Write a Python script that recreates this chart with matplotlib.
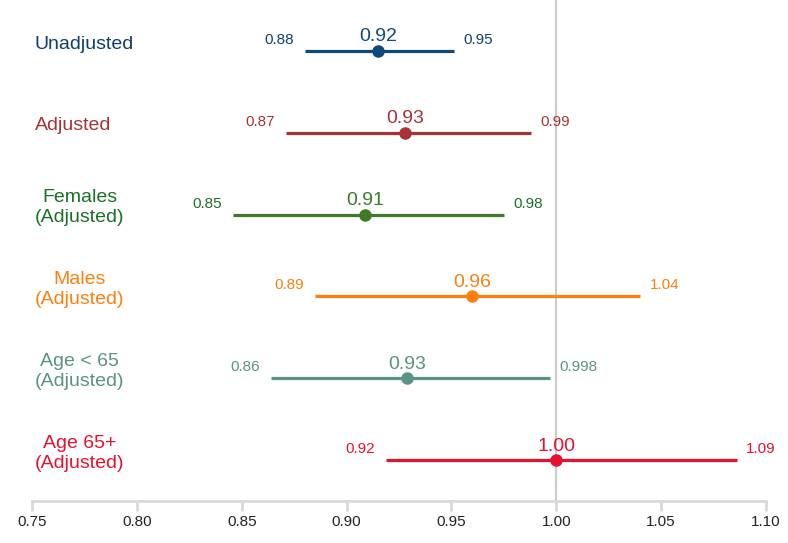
import matplotlib.pyplot as plt
import matplotlib.transforms as mtransforms

plt.rcParams['font.family'] = ['Liberation Sans', 'DejaVu Sans']

groups = ["Unadjusted", "Adjusted", "Females\n(Adjusted)", "Males\n(Adjusted)",
          "Age < 65\n(Adjusted)", "Age 65+\n(Adjusted)"]
estimates = [0.915, 0.928, 0.909, 0.960, 0.929, 1.000]
lower = [0.880, 0.871, 0.846, 0.885, 0.864, 0.919]
upper = [0.951, 0.988, 0.975, 1.040, 0.997, 1.086]
est_labels = ["0.92", "0.93", "0.91", "0.96", "0.93", "1.00"]
low_labels = ["0.88", "0.87", "0.85", "0.89", "0.86", "0.92"]
up_labels = ["0.95", "0.99", "0.98", "1.04", "0.998", "1.09"]
colors = ["#0e4a78", "#a83236", "#3e7b27", "#ff7f0e", "#5b9286", "#e8102f"]
text_colors = ["#0e3f6e", "#a83236", "#1a7025", "#ff7f0e", "#5b9286", "#e8102f"]
xticks = [0.75, 0.80, 0.85, 0.90, 0.95, 1.00, 1.05, 1.10]

fig = plt.figure(figsize=(7.88, 5.43), dpi=100)
ax = fig.add_axes([32 / 788, 42 / 543, 734 / 788, 501 / 543])

# reference line at 1
ax.axvline(1.0, color="#cccccc", lw=1.6, zorder=0)

trans = mtransforms.blended_transform_factory(ax.transAxes, ax.transData)
for i in range(len(groups)):
    c = colors[i]
    tc = text_colors[i]
    ax.plot([lower[i], upper[i]], [i, i], color=c, lw=2.3, solid_capstyle="butt", zorder=2)
    ax.plot(estimates[i], i, "o", color=c, markersize=8, zorder=3)
    ax.annotate(est_labels[i], (estimates[i], i), xytext=(0, 4), textcoords="offset points",
                ha="center", va="bottom", fontsize=14, color=c)
    ax.annotate(low_labels[i], (lower[i], i), xytext=(-8, 8), textcoords="offset points",
                ha="right", va="center", fontsize=11, color=tc)
    ax.annotate(up_labels[i], (upper[i], i), xytext=(7, 8), textcoords="offset points",
                ha="left", va="center", fontsize=11, color=tc)
    ax.annotate(groups[i], (0.0, i), xycoords=trans, xytext=(2, 5), textcoords="offset points",
                ha="left", va="center", multialignment="center", fontsize=14,
                color=tc, linespacing=1.25)

ax.set_xlim(0.75, 1.10)
ax.set_ylim(5.5, -0.623)
ax.set_xticks(xticks)
ax.set_xticklabels([f"{t:.2f}" for t in xticks])
ax.set_yticks([])
for s in ["top", "right", "left"]:
    ax.spines[s].set_visible(False)
ax.spines["bottom"].set_color("#d9d9d9")
ax.spines["bottom"].set_linewidth(2)
ax.tick_params(axis="x", colors="#d9d9d9", width=2, length=7, labelsize=11,
               labelcolor="#222222", pad=3)

fig.savefig("out.png", dpi=100)
